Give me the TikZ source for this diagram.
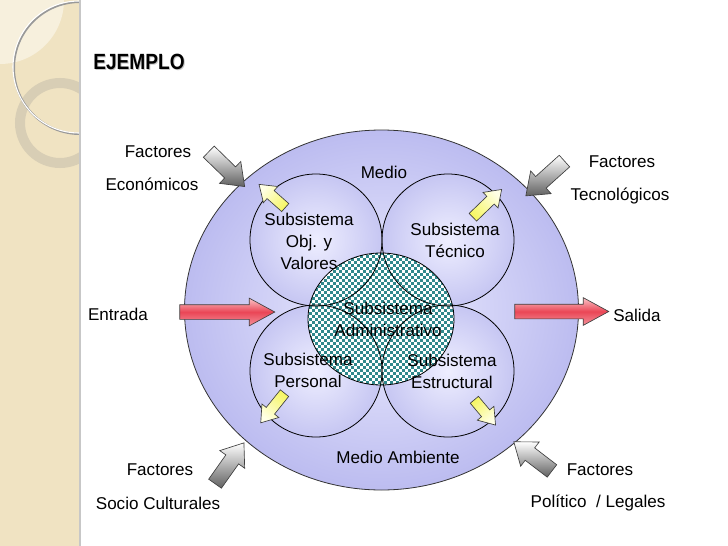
\documentclass[tikz,border=0pt]{standalone}
\usepackage{fontspec}
\setmainfont{Liberation Sans}
\usepackage{tikz}
\usetikzlibrary{shapes.arrows,shapes.geometric,patterns}

\definecolor{bandbeige}{RGB}{240,227,194}
\definecolor{bandlight}{RGB}{247,240,221}
\definecolor{ringtone}{RGB}{214,204,180}
\definecolor{lavout}{RGB}{188,188,240}
\definecolor{lavin}{RGB}{238,238,255}
\definecolor{checkteal}{RGB}{48,136,140}
\definecolor{redmid}{RGB}{234,70,86}
\definecolor{redlite}{RGB}{250,196,200}
\definecolor{yelmid}{RGB}{246,246,100}
\definecolor{yellite}{RGB}{255,255,230}

% fine checker for the administrative subsystem
\pgfdeclarepatternformonly{finechecker}{\pgfqpoint{-1pt}{-1pt}}{\pgfqpoint{5pt}{5pt}}{\pgfqpoint{4.5pt}{4.5pt}}{%
  \pgfpathrectangle{\pgfqpoint{0pt}{0pt}}{\pgfqpoint{2.2pt}{2.2pt}}%
  \pgfpathrectangle{\pgfqpoint{2.25pt}{2.25pt}}{\pgfqpoint{2.2pt}{2.2pt}}%
  \pgfusepath{fill}}

\begin{document}
\begin{tikzpicture}[
    x=0.75pt,y=-0.75pt,
    every node/.style={font=\fontsize{12.8}{16.5}\selectfont,inner sep=0pt},
    lbl/.style={align=center},
    sub/.style={draw=black,line width=0.6pt},
    subfill/.style={circle,minimum size=99pt,inner color=lavin,outer color=lavout!85!white},
    blk/.style={single arrow,draw=black!75,line width=0.5pt,inner xsep=0pt},
    gblk/.style 2 args={blk,minimum height=#1*0.75pt,inner ysep=5.6pt,
      single arrow head extend=5.6pt,single arrow tip angle=74,rotate=#2,
      top color=white,bottom color=black!62},
    rblk/.style={blk,minimum height=#1*0.75pt,inner ysep=5.25pt,
      single arrow head extend=4.9pt,single arrow tip angle=57,
      top color=redlite,bottom color=redlite!60!redmid,middle color=redmid},
    yblk/.style 2 args={blk,minimum height=#1*0.75pt,inner ysep=3.75pt,
      single arrow head extend=4.1pt,single arrow tip angle=70,rotate=#2,
      top color=yellite,bottom color=yelmid,shading angle={#2-90}}
  ]
  \useasboundingbox (0,0) rectangle (728,546);
  % left band of the slide
  \fill[bandbeige] (0,0) rectangle (80,546);
  \begin{scope}
    \clip (0,0) rectangle (80,546);
    \fill[bandlight] (0,0) circle[radius=64];
    \draw[ringtone,line width=7.5pt,opacity=0.9] (60,123) circle[radius=40];
    \draw[black!40,line width=1.5pt] (80,68) circle[radius=66];
    \draw[white,line width=0.8pt] (79,67) circle[radius=66];
  \end{scope}
  \draw[black!22,line width=1.2pt] (80,0) -- (80,546);
  % title, with its soft shadow
  \node[text=black!22] (tsombra) at (140,63) {\scalebox{0.87}[1]{\fontsize{16.5}{18}\selectfont\bfseries EJEMPLO}};
  \node (titulo) at (139,62) {\scalebox{0.87}[1]{\fontsize{16.5}{18}\selectfont\bfseries EJEMPLO}};
  % environment and the four subsystems
  \node[ellipse,draw=black!80,line width=0.6pt,minimum width=295.5pt,minimum height=270pt,
    inner color=lavin,outer color=lavout] (amb) at (381.5,310) {};
  \node[subfill] (sobj) at (316,240) {};
  \node[subfill] (stec) at (448,240) {};
  \node[subfill] (sper) at (316,371) {};
  \node[subfill] (sest) at (448,371) {};
  % administrative subsystem in the middle
  \node[ellipse,draw=black,line width=0.6pt,minimum width=109.5pt,minimum height=99pt,
    preaction={fill=white},pattern=finechecker,pattern color=checkteal] (sadm) at (381,319) {};
  \foreach \s in {sobj,stec,sper,sest}
    \draw[sub] (\s.center) circle[radius=66];
  % texts
  \node (lmedio) at (384,172) {Medio};
  \node[lbl] (tobj) at (309,241) {Subsistema\\Obj. y\\Valores};
  \node[lbl] (ttec) at (455,240) {Subsistema\\Técnico};
  \node[lbl] (tadm) at (388,319) {Subsistema\\Administrativo};
  \node[lbl] (tper) at (308,370) {Subsistema\\Personal};
  \node[lbl] (test) at (452,371) {Subsistema\\Estructural};
  \node (lamb) at (398,457) {Medio Ambiente};
  % inputs and outputs
  \node[rblk=95] (aent) at (220.5,312) {};
  \node[rblk=94] (asal) at (555,311.5) {};
  \node (lent) at (118,314) {Entrada};
  \node (lsal) at (637,315) {Salida};
  % outward arrows of the subsystems
  \node[yblk={35}{138.5}] (yobj) at (275,198.5) {};
  \node[yblk={40}{44}] (ytec) at (484.5,206) {};
  \node[yblk={38}{231.3}] (yper) at (275,405) {};
  \node[yblk={33}{-50}] (yest) at (482.5,409.5) {};
  % external factors
  \node[gblk={50}{-44.2}] (geco) at (223,165.5) {};
  \node[gblk={52}{-138}] (gtec) at (549,175) {};
  \node[gblk={50}{54.7}] (gsoc) at (226.5,467.5) {};
  \node[gblk={48}{142.6}] (gpol) at (537,459.5) {};
  \node (fecoA) at (158,152) {Factores};
  \node (fecoB) at (152,184) {Económicos};
  \node (ftecA) at (622,162) {Factores};
  \node (ftecB) at (620,196) {Tecnológicos};
  \node (fsocA) at (160,470) {Factores};
  \node (fsocB) at (158,503) {Socio Culturales};
  \node (fpolA) at (600,470) {Factores};
  \node (fpolB) at (598,503) {Político\ \ / Legales};
\end{tikzpicture}
\end{document}
